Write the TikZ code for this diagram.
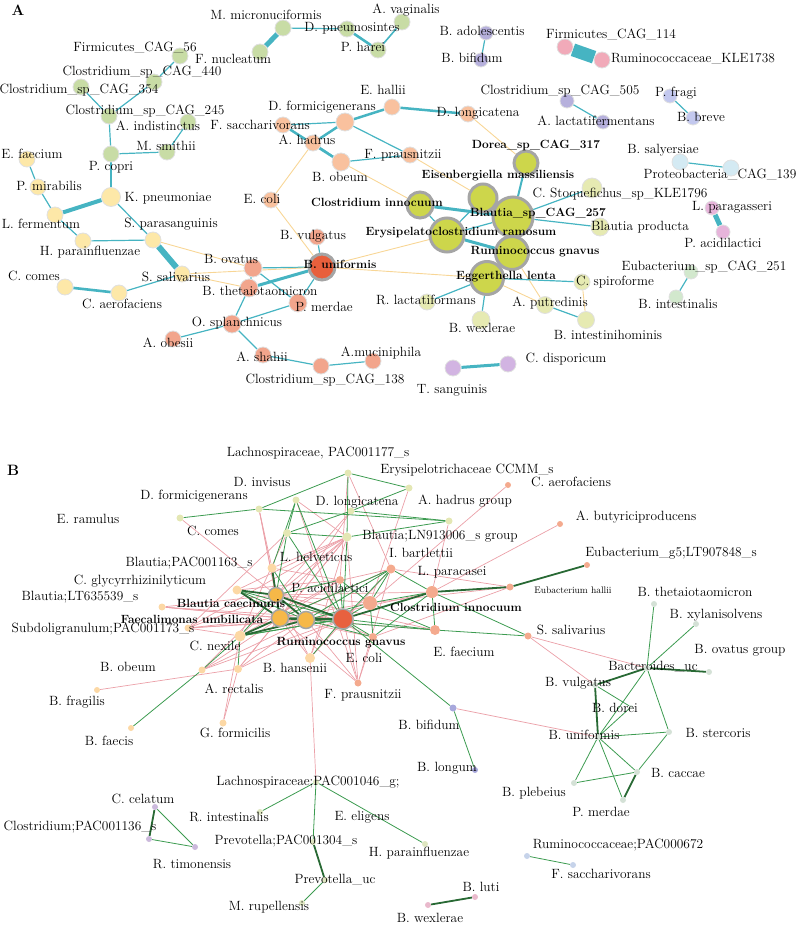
\documentclass[tikz,border=0pt]{standalone}
\usepackage{fontspec}
\definecolor{tealc}{RGB}{70,180,194}
\definecolor{lorc}{RGB}{248,214,150}
\definecolor{agreen}{RGB}{200,220,165}
\definecolor{ayellow}{RGB}{253,232,168}
\definecolor{apeach}{RGB}{249,193,158}
\definecolor{asalmon}{RGB}{242,165,140}
\definecolor{ared}{RGB}{232,95,60}
\definecolor{ayg}{RGB}{205,214,75}
\definecolor{apale}{RGB}{230,234,178}
\definecolor{apurple}{RGB}{182,176,220}
\definecolor{apink}{RGB}{241,170,185}
\definecolor{aperi}{RGB}{195,200,238}
\definecolor{ablue}{RGB}{212,234,243}
\definecolor{amauve}{RGB}{230,180,218}
\definecolor{algreen}{RGB}{210,232,205}
\definecolor{alav}{RGB}{210,180,226}
\definecolor{ringc}{RGB}{165,165,165}
\definecolor{byg}{RGB}{228,231,180}
\definecolor{bsal}{RGB}{244,170,142}
\definecolor{blo}{RGB}{252,216,165}
\definecolor{bor}{RGB}{246,184,72}
\definecolor{bred}{RGB}{232,97,63}
\definecolor{bgray}{RGB}{212,225,214}
\definecolor{bpur}{RGB}{168,168,220}
\definecolor{blpur}{RGB}{203,185,220}
\definecolor{bpink}{RGB}{233,185,204}
\definecolor{bblue}{RGB}{198,211,234}
\definecolor{bpale}{RGB}{222,230,192}
\definecolor{gc}{RGB}{60,155,80}
\definecolor{dgc}{RGB}{40,105,52}
\definecolor{pkc}{RGB}{235,160,168}
\pgfdeclarelayer{edges}
\pgfdeclarelayer{labels}
\pgfsetlayers{edges,main,labels}
% node + label
\newcommand\addnode[8]{\node[nd,minimum size=#4pt,fill=#5] (#1) at (#2,#3) {};
  \begin{pgfonlayer}{labels}\node[lab] (l#1) at (#6,#7) {#8};\end{pgfonlayer}}
% ring node + bold label
\newcommand\addring[8]{\node[rnd,minimum size=#4pt,fill=#5] (#1) at (#2,#3) {};
  \begin{pgfonlayer}{labels}\node[blab] (l#1) at (#6,#7) {#8};\end{pgfonlayer}}
% small node (panel B)
\newcommand\bnode[5]{\node[bnd,minimum size=#4pt,fill=#5] (#1) at (#2,#3) {};}
\newcommand\blabel[4][lab]{\begin{pgfonlayer}{labels}\node[#1] (#2) at (#3) {#4};\end{pgfonlayer}}
\newcommand\edgs[2]{\foreach \a/\b in {#2} {\draw[#1] (\a) -- (\b);}}
\begin{document}
\begin{tikzpicture}[x=1pt,y=-1pt,
  nd/.style={circle,inner sep=0pt,draw=black!12,line width=0.8pt},
  rnd/.style={circle,inner sep=0pt,draw=ringc,line width=3pt},
  bnd/.style={circle,inner sep=0pt,draw=none},
  bhub/.style={circle,inner sep=0pt,draw=ringc,line width=1.5pt},
  lab/.style={inner sep=0pt,font=\fontsize{13.4}{15}\selectfont},
  blab/.style={inner sep=0pt,font=\fontsize{11.9}{13}\selectfont\bfseries},
  slab/.style={inner sep=0pt,font=\fontsize{9.5}{10}\selectfont},
  plab/.style={inner sep=0pt,font=\fontsize{15}{17}\selectfont\bfseries},
  te/.style={draw=tealc,line width=#1}, te/.default=1.2pt,
  lo/.style={draw=lorc,line width=0.9pt},
  gB/.style={draw=gc,line width=0.8pt},
  dG/.style={draw=dgc,line width=1.8pt},
  pk/.style={draw=pkc,line width=0.7pt}]
\useasboundingbox (0,0) rectangle (796,925);
\node[plab] (panelA) at (18,10) {A};
\node[plab] (panelB) at (13,470) {B};
%%%%%%%%%%%%%%%% PANEL A
\addnode{mmic}{283}{28}{16}{agreen}{266}{15}{M. micronuciformis}
\addnode{fnuc}{260}{52}{16}{agreen}{233}{59}{F. nucleatum}
\addnode{dpne}{347}{29}{16}{agreen}{352}{28}{D. pneumosintes}
\addnode{avag}{402}{22}{16}{agreen}{406}{10}{A. vaginalis}
\addnode{phar}{378}{50}{16}{agreen}{363}{47}{P. harei}
\addnode{c56}{180}{56}{16}{agreen}{135}{48}{Firmicutes\_CAG\_56}
\addnode{c440}{154}{82}{16}{agreen}{142}{72}{Clostridium\_sp\_CAG\_440}
\addnode{c354}{81}{87}{16}{agreen}{79}{90}{Clostridium\_sp\_CAG\_354}
\addnode{c245}{109}{116}{16}{agreen}{145}{111}{Clostridium\_sp\_CAG\_245}
\addnode{aind}{188}{122}{16}{agreen}{158}{126}{A. indistinctus}
\addnode{msmi}{167}{152}{16}{agreen}{166}{146}{M. smithii}
\addnode{pcop}{111}{154}{16}{agreen}{111}{167}{P. copri}
\addnode{efae}{27}{159}{16}{ayellow}{32}{154}{E. faecium}
\addnode{pmir}{38}{187}{16}{ayellow}{49}{186}{P. mirabilis}
\addnode{kpne}{111}{197}{19}{ayellow}{168}{198}{K. pneumoniae}
\addnode{lfer}{55}{215}{16}{ayellow}{41}{224}{L. fermentum}
\addnode{spar}{153}{240}{16}{ayellow}{171}{224}{S. parasanguinis}
\addnode{hpar}{83}{241}{16}{ayellow}{90}{252}{H. parainfluenzae}
\addnode{ssal}{182}{274}{16}{ayellow}{176}{277}{S. salivarius}
\addnode{ccom}{65}{287}{16}{ayellow}{34}{276}{C. comes}
\addnode{caer}{119}{293}{16}{ayellow}{122}{304}{C. aerofaciens}
\addnode{ehal}{392}{107}{16}{apeach}{383}{90}{E. hallii}
\addnode{dfor}{345}{122}{18}{apeach}{322}{107}{D. formicigenerans}
\addnode{fsac}{283}{125}{16}{apeach}{260}{125}{F. saccharivorans}
\addnode{ahad}{313}{143}{16}{apeach}{307}{140}{A. hadrus}
\addnode{dlon}{468}{114}{16}{apeach}{478}{113}{D. longicatena}
\addnode{fpra}{410}{155}{16}{apeach}{403}{155}{F. prausnitzii}
\addnode{bobe}{341}{162}{18}{apeach}{340}{177}{B. obeum}
\addnode{ecol}{271}{200}{16}{apeach}{262}{199}{E. coli}
\addnode{bvul}{317}{237}{16}{asalmon}{313}{236}{B. vulgatus}
\addring{buni}{322}{267}{26}{ared}{340}{264}{B. uniformis}
\addnode{bova}{253}{268}{18}{asalmon}{231}{259}{B. ovatus}
\addnode{bthe}{249}{288}{18}{asalmon}{260}{291}{B. thetaiotaomicron}
\addnode{pmer}{298}{303}{18}{asalmon}{324}{307}{P. merdae}
\addnode{ospl}{232}{324}{18}{asalmon}{237}{323}{O. splanchnicus}
\addnode{aobe}{173}{339}{16}{asalmon}{168}{343}{A. obesii}
\addnode{asha}{263}{355}{16}{asalmon}{262}{357}{A. shahii}
\addnode{c138}{321}{366}{16}{asalmon}{325}{380}{Clostridium\_sp\_CAG\_138}
\addnode{amuc}{373}{361}{16}{asalmon}{381}{353}{A.muciniphila}
\addring{dore}{526}{163}{24}{ayg}{536}{145}{Dorea\_sp\_CAG\_317}
\addring{eise}{483}{198}{28}{ayg}{498}{176}{Eisenbergiella massiliensis}
\addring{cinn}{420}{205}{26}{ayg}{377}{202}{Clostridium innocuum}
\addring{blau}{513}{217}{40}{ayg}{538}{213}{Blautia\_sp\_CAG\_257}
\addring{erys}{447}{235}{34}{ayg}{461}{233}{Erysipelatoclostridium ramosum}
\addring{rumi}{512}{253}{33}{ayg}{535}{252}{Ruminococcus gnavus}
\addring{egge}{487}{278}{33}{ayg}{506}{277}{Eggerthella lenta}
\addnode{stoq}{592}{188}{20}{apale}{620}{194}{C. Stoquefichus\_sp\_KLE1796}
\addnode{bpro}{600}{227}{18}{apale}{640}{227}{Blautia producta}
\addnode{spir}{582}{282}{16}{apale}{615}{282}{C. spiroforme}
\addnode{aput}{545}{305}{17}{apale}{550}{303}{A. putredinis}
\addnode{bint}{586}{320}{17}{apale}{608}{335}{B. intestinihominis}
\addnode{bwex}{481}{320}{18}{apale}{482}{328}{B. wexlerae}
\addnode{rlac}{427}{302}{16}{apale}{426}{300}{R. lactatiformans}
\addnode{bado}{486}{33}{14}{apurple}{482}{31}{B. adolescentis}
\addnode{bbif}{481}{60}{14}{apurple}{472}{58}{B. bifidum}
\addnode{f114}{565}{47}{16}{apink}{611}{35}{Firmicutes\_CAG\_114}
\addnode{r1738}{602}{60}{16}{apink}{693}{59}{Ruminococcaceae\_KLE1738}
\addnode{c505}{567}{101}{14}{apurple}{560}{91}{Clostridium\_sp\_CAG\_505}
\addnode{alac}{603}{122}{14}{apurple}{596}{121}{A. lactatifermentans}
\addnode{pfra}{670}{96}{14}{aperi}{676}{93}{P. fragi}
\addnode{bbre}{693}{118}{14}{aperi}{701}{117}{B. breve}
\addnode{bsal}{680}{162}{16}{ablue}{663}{150}{B. salyersiae}
\addnode{prot}{731}{168}{16}{ablue}{720}{175}{Proteobacteria\_CAG\_139}
\addnode{lpar}{712}{208}{14}{amauve}{732}{207}{L. paragasseri}
\addnode{paci}{723}{232}{14}{amauve}{723}{243}{P. acidilactici}
\addnode{eubs}{691}{272}{14}{algreen}{704}{267}{Eubacterium\_sp\_CAG\_251}
\addnode{bins}{676}{297}{14}{algreen}{678}{304}{B. intestinalis}
\addnode{tsan}{453}{368}{16}{alav}{452}{390}{T. sanguinis}
\addnode{cdis}{508}{364}{16}{alav}{566}{359}{C. disporicum}
\begin{pgfonlayer}{edges}
\edgs{te}{mmic/dpne, c56/c440, c440/c245, c354/c245, c245/pcop, pcop/msmi, msmi/aind, pcop/kpne}
\edgs{te=1.6pt}{phar/avag}
\edgs{te=2.6pt}{dpne/phar}
\edgs{te=5pt}{mmic/fnuc}
\edgs{te}{efae/pmir, pmir/lfer, kpne/spar, lfer/hpar, hpar/spar, caer/ssal}
\edgs{te=4pt}{kpne/lfer}
\edgs{te=6pt}{spar/ssal}
\edgs{te=2.6pt}{ccom/caer}
\edgs{te}{fsac/dfor, dfor/fpra, bobe/fpra, bova/buni, bova/bthe, bova/pmer, bvul/buni, buni/pmer, bthe/ospl, ospl/pmer, ospl/aobe, ospl/asha, asha/c138, c138/amuc}
\edgs{te=2.5pt}{ahad/dfor, dfor/ehal, ehal/dlon, fsac/bobe}
\edgs{te=1.8pt}{ahad/bobe}
\edgs{te=3pt}{bthe/buni}
\edgs{lo}{ahad/ecol, ecol/buni, dlon/dore, bobe/cinn, fpra/eise, buni/erys, buni/egge, spar/bova, ssal/buni, ssal/bthe, egge/aput, rumi/aput, spir/bint}
\edgs{te=2pt}{dore/blau}
\edgs{te=3pt}{cinn/blau, erys/rumi}
\edgs{te}{cinn/erys, erys/eise, erys/blau, blau/stoq, blau/bpro, rumi/egge, egge/spir, egge/rlac, egge/bwex, aput/bint}
\edgs{te}{bado/bbif, c505/alac, pfra/bbre, bsal/prot, eubs/bins}
\edgs{te=13pt}{f114/r1738}
\edgs{te=5pt}{lpar/paci}
\edgs{te=3pt}{tsan/cdis}
\end{pgfonlayer}
%%%%%%%%%%%%%%%% PANEL B
\bnode{L177}{348}{473}{7}{byg}
\bnode{ERY}{409}{488}{7}{byg}
\bnode{DI}{296}{500}{7}{byg}
\bnode{DF}{259}{509}{7}{byg}
\bnode{CC}{180}{518}{7}{byg}
\bnode{DL}{351}{511}{7}{byg}
\bnode{AHG}{449}{521}{7}{byg}
\bnode{BLN}{347}{537}{9}{byg}
\bnode{LH}{287}{533}{8}{byg}
\bnode{CA}{508}{485}{6}{bsal}
\bnode{AB}{560}{524}{6}{bsal}
\bnode{EG5}{587}{565}{6}{bsal}
\bnode{EH}{510}{587}{7}{bsal}
\bnode{IB}{391}{569}{9}{bsal}
\bnode{PA}{340}{580}{8}{bsal}
\bnode{LP}{432}{592}{12}{bsal}
\bnode{CIs}{370}{603}{14}{bsal}
\bnode{EC}{373}{637}{8}{bsal}
\bnode{EF}{435}{630}{10}{bsal}
\bnode{SS}{528}{636}{7}{bsal}
\bnode{FP}{358}{683}{7}{bsal}
\bnode{BP}{272}{568}{9}{blo}
\bnode{CG}{237}{590}{9}{blo}
\bnode{BLT}{162}{607}{7}{blo}
\bnode{SUB}{188}{628}{7}{blo}
\bnode{CN}{240}{636}{11}{blo}
\bnode{BOB}{202}{670}{7}{blo}
\bnode{AR}{238}{669}{8}{blo}
\bnode{BH}{310}{658}{10}{blo}
\bnode{BF}{97}{690}{6}{blo}
\bnode{BFa}{131}{728}{6}{blo}
\bnode{GF}{223}{723}{7}{blo}
\node[bhub,minimum size=15pt,fill=bor] (BC) at (276,595) {};
\node[bhub,minimum size=17pt,fill=bor] (FU) at (280,618) {};
\node[bhub,minimum size=17pt,fill=bor] (RG) at (306,620) {};
\node[bhub,minimum size=20pt,fill=bred] (CIR) at (343,619) {};
\bnode{BT}{654}{604}{6}{bgray}
\bnode{BX}{696}{624}{6}{bgray}
\bnode{BOG}{709}{672}{6}{bgray}
\bnode{BUC}{647}{668}{6}{bgray}
\bnode{BV}{595}{685}{6}{bgray}
\bnode{BD}{631}{707}{4}{bgray}
\bnode{BU}{598}{737}{6}{bgray}
\bnode{BS}{669}{732}{6}{bgray}
\bnode{BCa}{637}{772}{6}{bgray}
\bnode{BPl}{574}{783}{6}{bgray}
\bnode{PM}{623}{800}{6}{bgray}
\bnode{BB}{453}{708}{7}{bpur}
\bnode{BL}{475}{770}{6}{bpur}
\bnode{L046}{316}{782}{6}{bpale}
\bnode{RI}{260}{812}{6}{bpale}
\bnode{PR}{313}{842}{6}{bpale}
\bnode{PUC}{325}{880}{6}{bpale}
\bnode{MR}{302}{903}{6}{bpale}
\bnode{HP}{425}{844}{6}{bpale}
\bnode{CCe}{155}{807}{6}{blpur}
\bnode{CP}{149}{839}{6}{blpur}
\bnode{RT}{195}{847}{6}{blpur}
\bnode{R672}{527}{856}{6}{bblue}
\bnode{FS}{573}{865}{6}{bblue}
\bnode{BLu}{475}{897}{6}{bpink}
\bnode{BW}{428}{905}{6}{bpink}
\blabel{b1}{318,453}{Lachnospiraceae, PAC001177\_s}
\blabel{b2}{467,470}{Erysipelotrichaceae CCMM\_s}
\blabel{b3}{262,482}{D. invisus}
\blabel{b4}{194,496}{D. formicigenerans}
\blabel{b5}{357,502}{D. longicatena}
\blabel{b6}{465,501}{A. hadrus group}
\blabel{b7}{571,482}{C. aerofaciens}
\blabel{b8}{88,519}{E. ramulus}
\blabel{b9}{213,531}{C. comes}
\blabel{b10}{636,517}{A. butyriciproducens}
\blabel{b11}{440,536}{Blautia;LN913006\_s group}
\blabel{b12}{421,553}{I. bartlettii}
\blabel{b13}{671,553}{Eubacterium\_g5;LT907848\_s}
\blabel{b14}{452,572}{L. paracasei}
\blabel{b15}{316,557}{L. helveticus}
\blabel{b16}{189,563}{Blautia;PAC001163\_s}
\blabel{b17}{140,581}{C. glycyrrhizinilyticum}
\blabel{b18}{80,597}{Blautia;LT635539\_s}
\blabel{b19}{330,588}{P. acidilactici}
\blabel[blab]{b20}{231,603}{Blautia caecimuris}
\blabel[blab]{b21}{456,607}{Clostridium innocuum}
\blabel[slab]{b22}{573,590}{Eubacterium hallii}
\blabel[blab]{b23}{192,619}{Faecalimonas umbilicata}
\blabel{b24}{103,629}{Subdoligranulum;PAC001173\_s}
\blabel{b25}{215,646}{C. nexile}
\blabel[blab]{b26}{341,643}{Ruminococcus gnavus}
\blabel{b27}{464,652}{E. faecium}
\blabel{b28}{571,630}{S. salivarius}
\blabel{b29}{364,658}{E. coli}
\blabel{b30}{295,668}{B. hansenii}
\blabel{b31}{128,667}{B. obeum}
\blabel{b32}{234,689}{A. rectalis}
\blabel{b33}{363,695}{F. prausnitzii}
\blabel{b34}{77,702}{B. fragilis}
\blabel{b35}{109,741}{B. faecis}
\blabel{b36}{235,733}{G. formicilis}
\blabel{b37}{429,725}{B. bifidum}
\blabel{b38}{447,768}{B. longum}
\blabel{b39}{695,592}{B. thetaiotaomicron}
\blabel{b40}{716,615}{B. xylanisolvens}
\blabel{b41}{740,650}{B. ovatus group}
\blabel{b42}{653,667}{Bacteroides\_uc}
\blabel{b43}{578,683}{B. vulgatus}
\blabel{b44}{615,708}{B. dorei}
\blabel{b45}{584,735}{B. uniformis}
\blabel{b46}{718,733}{B. stercoris}
\blabel{b47}{678,773}{B. caccae}
\blabel{b48}{534,793}{B. plebeius}
\blabel{b49}{601,812}{P. merdae}
\blabel{b50}{308,782}{Lachnospiraceae;PAC001046\_g;}
\blabel{b51}{143,799}{C. celatum}
\blabel{b52}{229,817}{R. intestinalis}
\blabel{b53}{362,817}{E. eligens}
\blabel{b54}{80,827}{Clostridium;PAC001136\_s}
\blabel{b55}{286,841}{Prevotella;PAC001304\_s}
\blabel{b56}{419,853}{H. parainfluenzae}
\blabel{b57}{192,864}{R. timonensis}
\blabel{b58}{335,880}{Prevotella\_uc}
\blabel{b59}{269,907}{M. rupellensis}
\blabel{b60}{618,845}{Ruminococcaceae;PAC000672}
\blabel{b61}{601,874}{F. saccharivorans}
\blabel{b62}{481,887}{B. luti}
\blabel{b63}{430,918}{B. wexlerae}
\begin{pgfonlayer}{edges}
% pink edges
\edgs{pk}{DF/BP, DF/FU, DF/BC, CC/BC, BLN/BP, BLN/BC, BLN/FU, BLN/CN, BLN/CG, BLN/SUB, DI/BLN, DI/FP, L177/IB, L177/PA, ERY/CIs, AHG/LP, CA/CIs, AB/LP, EH/LP, EH/CIs, EH/IB, EH/EC,
  BLT/BC, BLT/FU, BLT/RG, BLT/CIR, SUB/FU, SUB/RG, SUB/CIR, SUB/BC, SUB/CN, BOB/FU, BOB/RG, BOB/BC, BOB/CIR,
  AR/FU, AR/RG, AR/CIR, AR/BLN, BH/BC, BH/FU, BH/CIR, BH/BLN, BH/PA, BH/IB, FP/CIR, FP/RG, FP/BLN, FP/IB, FP/EC, FP/FU,
  EC/BC, EC/FU, BF/AR, GF/AR, GF/CN, BH/L046, IB/BC, IB/FU, IB/CN, PA/FU, PA/CN, PA/BP, EF/FU, EF/BC, CIs/FU, CIs/BC, LP/RG, LP/BC,
  LH/CN, LH/SUB, DL/BC, DL/FU, CG/PA, BB/BU, SS/BUC, SS/BV}
% green edges
\edgs{gB}{DF/CC, DF/L177, DF/AHG, L177/ERY, L177/BLN, ERY/DL, DL/LH, LH/BLN, AHG/DL, AHG/BLN, DI/BP, DI/CIR, DI/LH,
  LP/IB, LP/CIs, LP/EF, LP/SS, LP/EC, CIs/CIR, CIs/IB, CIs/PA, CIs/EC, CIs/EF, CIs/RG, CIR/IB, CIR/PA, CIR/EC, CIR/EF, CIR/BH, CIR/CG, CIR/CN, CIR/BB, CIR/BLN,
  CG/RG, BP/FU, BP/RG, LH/BC, LH/CIR, CN/BC, CN/CIR, CN/AR, CN/BOB, BOB/BFa, RG/EC, RG/IB, FU/IB, BC/PA, RG/EF, EF/SS, BB/BL,
  BT/BUC, BX/BUC, BUC/BS, BUC/BU, BV/BD, BD/BU, BU/BS, BU/BCa, BU/PM, BU/BPl, BPl/BCa, BCa/BS,
  L046/RI, L046/PR, L046/HP, PUC/MR, CCe/RT, CP/RT, R672/FS}
\edgs{dG}{LP/EH, EH/EG5, CIR/LP, CIR/RG, CIR/FU, CIR/BC, RG/FU, RG/BC, FU/BC, CG/BC, CG/FU, BP/BC, CN/FU, CN/RG,
  BUC/BOG, BV/BUC, BV/BU, BCa/PM, PR/PUC, CCe/CP, BLu/BW}
\end{pgfonlayer}
\end{tikzpicture}
\end{document}
